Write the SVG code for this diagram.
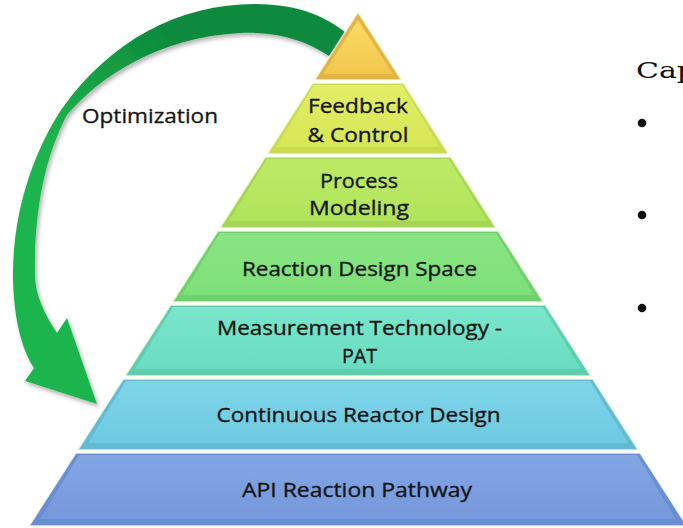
<svg xmlns="http://www.w3.org/2000/svg" width="683" height="528" viewBox="0 0 683 528">
  <style>
    .lbl { font-family: "Open Sans", "Liberation Sans", sans-serif; font-size: 20px; fill: #151515; stroke: #151515; stroke-width: 0.35px; text-anchor: middle; }
    .side { font-family: "Open Sans", "Liberation Sans", sans-serif; font-size: 20px; fill: #151515; stroke: #151515; stroke-width: 0.3px; }
    .head { font-family: "DejaVu Serif", "Liberation Serif", serif; font-size: 23px; fill: #111; }
    .edge { stroke: #f4fbe8; stroke-opacity: 0.85; stroke-width: 1.5; stroke-linejoin: round; }
  </style>
  <defs>
    <filter id="shadow" x="-10%" y="-10%" width="130%" height="130%">
      <feDropShadow dx="2" dy="3" stdDeviation="2" flood-color="#000" flood-opacity="0.3"/>
    </filter>
    <linearGradient id="arrowFill" gradientUnits="userSpaceOnUse" x1="160" y1="25" x2="60" y2="150">
      <stop offset="0" stop-color="#0d8a3c"/>
      <stop offset="1" stop-color="#1fb44e"/>
    </linearGradient>
    <linearGradient id="g0" x1="0" y1="0" x2="0" y2="1"><stop offset="0" stop-color="#f8dc62"/><stop offset="1" stop-color="#f2c64e"/></linearGradient>
    <linearGradient id="g1" x1="0" y1="0" x2="0" y2="1"><stop offset="0" stop-color="#e2ee66"/><stop offset="1" stop-color="#d6e756"/></linearGradient>
    <linearGradient id="g2" x1="0" y1="0" x2="0" y2="1"><stop offset="0" stop-color="#bdea66"/><stop offset="1" stop-color="#b0e45a"/></linearGradient>
    <linearGradient id="g3" x1="0" y1="0" x2="0" y2="1"><stop offset="0" stop-color="#8ae584"/><stop offset="1" stop-color="#7ddf7a"/></linearGradient>
    <linearGradient id="g4" x1="0" y1="0" x2="0" y2="1"><stop offset="0" stop-color="#7ae6cb"/><stop offset="1" stop-color="#6adcbf"/></linearGradient>
    <linearGradient id="g5" x1="0" y1="0" x2="0" y2="1"><stop offset="0" stop-color="#7ed5ea"/><stop offset="1" stop-color="#6ecae0"/></linearGradient>
    <linearGradient id="g6" x1="0" y1="0" x2="0" y2="1"><stop offset="0" stop-color="#82a6e4"/><stop offset="1" stop-color="#7698dc"/></linearGradient>
  </defs>

  <rect width="683" height="528" fill="#ffffff"/>

  <!-- curved feedback arrow, drawn first so the apex sits over its tail -->
  <g id="connectors">
    <path id="optimization-arrow" filter="url(#shadow)" fill="url(#arrowFill)"
          d="M352,38 C330,18 300,4 255,4 C180,4 110,40 61,110 C35,150 12,210 13,280 C14,320 22,350 34,368 L25,381 L97,404 L67,318 L57,333 C45,315 35,295 35,275 C34,220 42,162 67,115 C100,76 160,37 240,33 C285,31 320,45 350,72 Z"/>
    <text id="optimization-label" class="side" x="82" y="123" textLength="136" lengthAdjust="spacingAndGlyphs">Optimization</text>
  </g>

  <!-- pyramid tiers: outer shape is the bevel, inner shape is the face -->
  <g id="tier-apex">
    <polygon class="edge" fill="#e3b443" points="358,12 401.5,80 314.5,80"/>
    <polygon fill="url(#g0)" points="358,20 393,74 323,74"/>
  </g>

  <g id="tier-feedback">
    <polygon class="edge" fill="#cadb50" points="312.6,83 403.4,83 448.9,154 267.1,154"/>
    <polygon fill="url(#g1)" points="314,85 402,85 440,147 276,147"/>
    <text class="lbl" x="358" y="113" textLength="100" lengthAdjust="spacingAndGlyphs">Feedback</text>
    <text class="lbl" x="358" y="142" textLength="101" lengthAdjust="spacingAndGlyphs">&amp; Control</text>
  </g>

  <g id="tier-modeling">
    <polygon class="edge" fill="#a5d652" points="265.2,157 450.8,157 496.2,228 219.8,228"/>
    <polygon fill="url(#g2)" points="267,159 449,159 487,221 229,221"/>
    <text class="lbl" x="359" y="188" textLength="78" lengthAdjust="spacingAndGlyphs">Process</text>
    <text class="lbl" x="359" y="215" textLength="100" lengthAdjust="spacingAndGlyphs">Modeling</text>
  </g>

  <g id="tier-design-space">
    <polygon class="edge" fill="#70d06e" points="217.8,231 498.2,231 543.6,302 172.4,302"/>
    <polygon fill="url(#g3)" points="220,233 496,233 534,295 182,295"/>
    <text class="lbl" x="359.5" y="276" textLength="235" lengthAdjust="spacingAndGlyphs">Reaction Design Space</text>
  </g>

  <g id="tier-pat">
    <polygon class="edge" fill="#5ecdb0" points="170.5,305 545.5,305 591,376 125,376"/>
    <polygon fill="url(#g4)" points="173,307 543,307 581,369 135,369"/>
    <text class="lbl" x="359.5" y="335" textLength="285" lengthAdjust="spacingAndGlyphs">Measurement Technology -</text>
    <text class="lbl" x="359.5" y="363" textLength="35" lengthAdjust="spacingAndGlyphs">PAT</text>
  </g>

  <g id="tier-reactor">
    <polygon class="edge" fill="#62bbd3" points="123.1,379 592.9,379 638.3,450 77.7,450"/>
    <polygon fill="url(#g5)" points="126,381 590,381 628,443 88,443"/>
    <text class="lbl" x="358.5" y="422" textLength="284" lengthAdjust="spacingAndGlyphs">Continuous Reactor Design</text>
  </g>

  <g id="tier-pathway">
    <polygon class="edge" fill="#6a8dd4" points="75.8,453 640.2,453 687,526 29,526"/>
    <polygon fill="url(#g6)" points="79,455 637,455 676,519 40,519"/>
    <text class="lbl" x="357" y="497" textLength="230" lengthAdjust="spacingAndGlyphs">API Reaction Pathway</text>
  </g>

  <!-- side list, running off the right edge -->
  <g id="side-list">
    <text class="head" x="636" y="78" textLength="60" lengthAdjust="spacingAndGlyphs">Cap</text>
    <circle cx="642" cy="123" r="4.3" fill="#111"/>
    <circle cx="642" cy="215" r="4.3" fill="#111"/>
    <circle cx="642" cy="308" r="4.3" fill="#111"/>
  </g>
</svg>
